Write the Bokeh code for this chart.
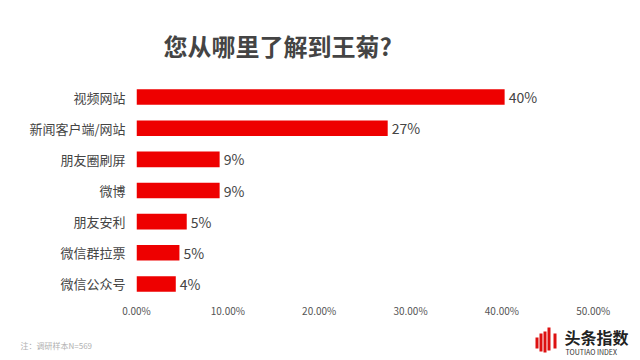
from bokeh.plotting import figure
from bokeh.layouts import column
from bokeh.models import (FactorRange, Range1d, ColumnDataSource, NumeralTickFormatter,
                          FixedTicker, Label, BoxAnnotation)
from bokeh.core.properties import value
from bokeh.embed import file_html
from bokeh.resources import INLINE

categories = ["视频网站", "新闻客户端/网站", "朋友圈刷屏", "微博", "朋友安利", "微信群拉票", "微信公众号"]
shares = [0.403, 0.275, 0.091, 0.091, 0.055, 0.047, 0.043]
share_labels = ["40%", "27%", "9%", "9%", "5%", "5%", "4%"]
x_ticks = [0.0, 0.1, 0.2, 0.3, 0.4, 0.5]
title_text = "您从哪里了解到王菊?"
note_text = "注：调研样本N=569"
logo_text = "头条指数"
logo_sub = "TOUTIAO INDEX"

FONT = "Noto Sans CJK SC"


def blank(h):
    f = figure(width=640, height=h, output_backend="svg", toolbar_location=None,
               x_range=Range1d(0, 640), y_range=Range1d(0, h),
               x_axis_location=None, y_axis_location=None,
               min_border=0, min_border_left=0, min_border_right=0,
               min_border_top=0, min_border_bottom=0, frame_align=False)
    f.outline_line_color = None
    f.grid.visible = False
    f.background_fill_color = "white"
    f.border_fill_color = "white"
    return f


# ---- header (title) ----
head = blank(70)
head.add_layout(Label(x=163, y=25, text=title_text, text_font=FONT, text_font_size="24px",
                      text_font_style="bold", text_color="#444444", text_baseline="middle"))

# ---- main chart ----
src = ColumnDataSource(dict(cat=categories, share=shares, lab=share_labels))

p = figure(width=640, height=250, output_backend="svg", toolbar_location=None,
           y_range=FactorRange(factors=list(reversed(categories))),
           x_range=Range1d(0, 0.52), frame_align=False,
           min_border_left=136, min_border_right=29, min_border_top=11, min_border_bottom=20)
p.outline_line_color = None
p.background_fill_color = "white"
p.border_fill_color = "white"
p.xgrid.grid_line_color = None
p.ygrid.grid_line_color = None

p.hbar(y="cat", right="share", left=0, height=0.5, source=src,
       fill_color="#ee0000", line_color=None)
p.text(x="share", y="cat", text="lab", source=src, x_offset=4,
       text_baseline="middle", text_align="left", text_font_size="14px",
       text_color="#444444", text_font=value(FONT))

p.xaxis.ticker = FixedTicker(ticks=x_ticks)
p.xaxis.formatter = NumeralTickFormatter(format="0.00%")
p.xaxis.axis_line_color = None
p.xaxis.major_tick_line_color = None
p.xaxis.minor_tick_line_color = None
p.xaxis.major_tick_out = 0
p.xaxis.minor_tick_out = 0
p.xaxis.major_label_text_font = FONT
p.xaxis.major_label_text_font_size = "10px"
p.xaxis.major_label_text_color = "#555555"
p.xaxis.major_label_standoff = 3

p.yaxis.axis_line_color = None
p.yaxis.major_tick_line_color = None
p.yaxis.minor_tick_line_color = None
p.yaxis.major_tick_out = 0
p.yaxis.minor_tick_out = 0
p.yaxis.major_label_text_font = FONT
p.yaxis.major_label_text_font_size = "13px"
p.yaxis.major_label_text_color = "#444444"
p.yaxis.major_label_standoff = 11

# ---- footer (note + logo) ----
foot = blank(40)
foot.add_layout(Label(x=20, y=15, text=note_text, text_font=FONT, text_font_size="8px",
                      text_color="#b0b0b0", text_baseline="middle"))
for (l, r, b, t) in [(535, 538, 12, 23), (539, 542, 9, 27), (543, 546, 8, 29),
                     (547, 550, 10, 33), (553, 556, 12, 27)]:
    foot.add_layout(BoxAnnotation(left=l, right=r, bottom=b, top=t,
                                  fill_color="#dd1111", fill_alpha=1.0, line_color=None))
foot.add_layout(Label(x=564, y=24, text=logo_text, text_font=FONT, text_font_size="16px",
                      text_font_style="bold", text_color="#222222", text_baseline="middle"))
foot.add_layout(Label(x=565, y=9, text=logo_sub, text_font=FONT, text_font_size="7px",
                      text_color="#333333", text_baseline="middle"))

layout = column(head, p, foot, spacing=0)

out = open("out.html", "w")
out.write(file_html(layout, INLINE))
out.close()
